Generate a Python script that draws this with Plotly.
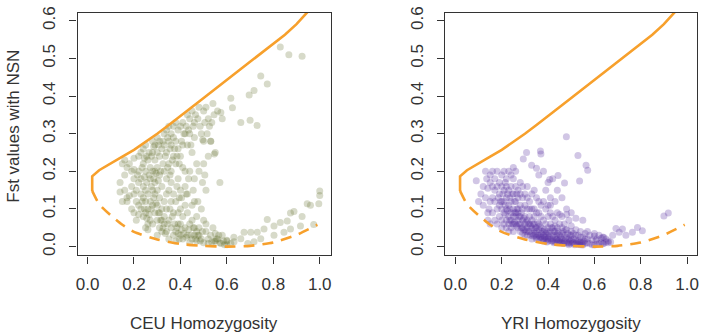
import plotly.graph_objects as go

# Boundary curves (same in both panels)
upper_x = [0.02, 0.02, 0.05, 0.1, 0.15, 0.2, 0.25, 0.3, 0.35, 0.4, 0.45, 0.5, 0.55, 0.6, 0.65, 0.7, 0.75, 0.8, 0.85, 0.9, 0.95]
upper_y = [0.148, 0.187, 0.203, 0.222, 0.239, 0.257, 0.278, 0.3, 0.323, 0.348, 0.371, 0.395, 0.419, 0.443, 0.466, 0.49, 0.513, 0.537, 0.563, 0.591, 0.625]
lower_x = [0.02, 0.05, 0.1, 0.15, 0.2, 0.3, 0.4, 0.5, 0.6, 0.7, 0.8, 0.9, 0.99]
lower_y = [0.148, 0.113, 0.083, 0.058, 0.039, 0.019, 0.007, 0.002, 0.0, 0.002, 0.011, 0.031, 0.058]

ceu_pts = [
    (0.14,0.17),(0.15,0.12),(0.16,0.15),(0.15,0.22),(0.16,0.23),(0.17,0.21),(0.17,0.13),(0.14,0.145),(0.16,0.19),(0.17,0.12),
    (0.18,0.22),(0.19,0.2),(0.2,0.18),(0.19,0.16),(0.2,0.14),(0.21,0.12),(0.19,0.1),(0.2,0.09),(0.22,0.11),(0.21,0.15),(0.22,0.2),
    (0.2,0.235),(0.22,0.24),(0.21,0.07),(0.22,0.085),(0.18,0.135),(0.2,0.205),(0.22,0.17),
    (0.23,0.25),(0.24,0.26),(0.25,0.27),(0.24,0.22),(0.25,0.2),(0.23,0.18),(0.24,0.16),(0.26,0.14),(0.25,0.12),(0.23,0.1),
    (0.24,0.08),(0.26,0.06),(0.25,0.05),(0.27,0.07),(0.26,0.1),(0.27,0.18),(0.26,0.23),(0.27,0.21),(0.25,0.15),(0.24,0.13),
    (0.23,0.14),(0.27,0.12),(0.26,0.045),(0.25,0.09),
    (0.28,0.28),(0.29,0.27),(0.3,0.29),(0.31,0.28),(0.28,0.25),(0.29,0.23),(0.3,0.21),(0.31,0.24),(0.32,0.26),(0.28,0.2),
    (0.29,0.17),(0.3,0.15),(0.31,0.13),(0.28,0.11),(0.29,0.09),(0.3,0.07),(0.31,0.05),(0.32,0.04),(0.28,0.06),(0.3,0.03),
    (0.32,0.1),(0.31,0.19),(0.29,0.14),(0.32,0.16),(0.3,0.11),(0.28,0.15),(0.32,0.07),(0.31,0.09),(0.29,0.2),(0.3,0.25),
    (0.33,0.3),(0.34,0.31),(0.35,0.32),(0.36,0.3),(0.33,0.27),(0.34,0.25),(0.36,0.27),(0.37,0.29),(0.35,0.22),(0.33,0.2),
    (0.34,0.18),(0.36,0.2),(0.37,0.24),(0.35,0.15),(0.33,0.12),(0.34,0.1),(0.36,0.12),(0.37,0.09),(0.35,0.07),(0.33,0.06),
    (0.34,0.04),(0.36,0.05),(0.37,0.03),(0.35,0.02),(0.33,0.08),(0.36,0.17),(0.37,0.14),(0.34,0.14),(0.35,0.28),(0.37,0.32),
    (0.38,0.33),(0.39,0.31),(0.4,0.32),(0.41,0.33),(0.38,0.28),(0.39,0.26),(0.4,0.24),(0.42,0.3),(0.38,0.22),(0.41,0.21),
    (0.39,0.18),(0.4,0.15),(0.42,0.2),(0.38,0.12),(0.4,0.1),(0.41,0.08),(0.39,0.06),(0.42,0.05),(0.38,0.04),(0.4,0.03),
    (0.41,0.02),(0.42,0.11),(0.39,0.09),(0.42,0.16),(0.4,0.06),(0.38,0.015),(0.41,0.27),(0.39,0.035),
    (0.43,0.35),(0.44,0.34),(0.45,0.36),(0.46,0.33),(0.44,0.3),(0.46,0.29),(0.43,0.27),(0.45,0.25),(0.47,0.22),(0.44,0.2),
    (0.46,0.18),(0.43,0.14),(0.45,0.11),(0.47,0.08),(0.44,0.06),(0.46,0.05),(0.43,0.03),(0.45,0.02),(0.47,0.015),(0.44,0.01),
    (0.46,0.03),(0.47,0.04),(0.45,0.07),(0.43,0.09),(0.46,0.12),
    (0.48,0.37),(0.5,0.36),(0.51,0.37),(0.52,0.34),(0.49,0.3),(0.5,0.28),(0.52,0.24),(0.48,0.2),(0.5,0.22),(0.51,0.15),
    (0.49,0.1),(0.5,0.07),(0.48,0.05),(0.51,0.04),(0.52,0.02),(0.49,0.02),(0.5,0.01),(0.52,0.008),(0.48,0.03),(0.51,0.06),
    (0.53,0.28),(0.55,0.25),(0.57,0.17),(0.56,0.36),(0.58,0.34),(0.54,0.38),(0.53,0.03),(0.55,0.015),(0.57,0.01),(0.59,0.005),
    (0.54,0.05),(0.56,0.02),(0.58,0.03),(0.6,0.015),(0.6,0.005),(0.55,0.035),
    (0.83,0.53),(0.867,0.51),(0.924,0.506),(0.746,0.453),(0.774,0.432),(0.717,0.415),(0.696,0.403),(0.7,0.336),(0.73,0.322),
    (0.66,0.33),(0.617,0.394),(0.624,0.369),(0.574,0.356),(0.531,0.28),(0.546,0.246),(0.496,0.284),
    (1.0,0.148),(1.0,0.136),(0.996,0.114),(0.96,0.11),(0.946,0.114),(0.924,0.08),(0.889,0.093),(0.874,0.089),(0.86,0.068),
    (0.83,0.064),(0.803,0.055),(0.774,0.072),(0.76,0.047),(0.731,0.038),(0.703,0.038),(0.674,0.038),(0.66,0.021),(0.631,0.013),
    (0.6,0.017),(0.574,0.008),(0.546,0.014),(0.917,0.055),(0.974,0.059),(0.874,0.047),(0.846,0.038),(0.803,0.03),(0.746,0.021),
    (0.717,0.013),(0.69,0.008),(0.63,0.025),(0.617,0.008),
    # extra density in the main cloud
    (0.215,0.19),(0.235,0.21),(0.245,0.185),(0.255,0.17),(0.265,0.19),(0.275,0.16),(0.285,0.18),(0.295,0.195),(0.305,0.175),
    (0.315,0.2),(0.325,0.22),(0.335,0.24),(0.345,0.21),(0.355,0.19),(0.365,0.23),(0.375,0.26),(0.385,0.24),(0.395,0.22),
    (0.235,0.12),(0.245,0.1),(0.255,0.075),(0.265,0.085),(0.275,0.1),(0.285,0.13),(0.295,0.115),(0.305,0.09),(0.315,0.07),
    (0.325,0.05),(0.335,0.035),(0.345,0.06),(0.355,0.1),(0.365,0.08),(0.375,0.06),(0.385,0.05),(0.395,0.02),(0.405,0.045),
    (0.415,0.035),(0.425,0.025),(0.435,0.045),(0.445,0.03),(0.455,0.05),(0.465,0.02),(0.475,0.03),(0.485,0.015),(0.495,0.04),
    (0.415,0.3),(0.425,0.32),(0.435,0.31),(0.445,0.27),(0.455,0.32),(0.465,0.35),(0.475,0.34),(0.485,0.32),(0.405,0.28),
    (0.325,0.28),(0.345,0.29),(0.355,0.26),(0.275,0.24),(0.265,0.25),(0.255,0.24),(0.245,0.235),(0.285,0.265),(0.305,0.27),
    (0.405,0.13),(0.425,0.14),(0.435,0.18),(0.455,0.15),(0.475,0.12),(0.495,0.17),(0.505,0.19),(0.385,0.16),(0.395,0.13),
    (0.515,0.3),(0.525,0.32),(0.535,0.33),(0.545,0.35),(0.505,0.33),(0.555,0.02),(0.565,0.03),(0.585,0.015),(0.535,0.012),
]

yri_pts = [
    (0.09,0.175),(0.13,0.2),(0.135,0.18),(0.12,0.16),(0.11,0.14),(0.12,0.11),(0.14,0.09),(0.13,0.13),(0.14,0.155),(0.15,0.19),
    (0.15,0.12),(0.1,0.12),(0.145,0.1),(0.15,0.17),(0.15,0.06),(0.14,0.07),
    (0.16,0.2),(0.17,0.18),(0.18,0.16),(0.19,0.14),(0.2,0.12),(0.17,0.12),(0.18,0.1),(0.19,0.08),(0.2,0.07),(0.16,0.09),
    (0.17,0.15),(0.2,0.19),(0.18,0.2),(0.19,0.17),(0.2,0.1),(0.16,0.13),(0.18,0.06),(0.2,0.05),(0.17,0.07),(0.19,0.11),
    (0.2,0.16),(0.16,0.16),
    (0.21,0.2),(0.22,0.18),(0.23,0.2),(0.24,0.19),(0.25,0.21),(0.21,0.15),(0.22,0.13),(0.23,0.11),(0.24,0.09),(0.25,0.08),
    (0.21,0.09),(0.22,0.07),(0.23,0.06),(0.24,0.05),(0.25,0.04),(0.21,0.06),(0.22,0.1),(0.23,0.08),(0.24,0.12),(0.25,0.1),
    (0.22,0.05),(0.24,0.07),(0.25,0.06),(0.23,0.15),(0.25,0.14),(0.21,0.12),(0.24,0.16),(0.22,0.16),(0.25,0.18),(0.23,0.04),
    (0.26,0.2),(0.27,0.15),(0.28,0.17),(0.29,0.13),(0.3,0.11),(0.26,0.12),(0.27,0.1),(0.28,0.08),(0.29,0.07),(0.3,0.06),
    (0.26,0.06),(0.27,0.05),(0.28,0.04),(0.29,0.035),(0.3,0.03),(0.26,0.08),(0.27,0.07),(0.28,0.06),(0.29,0.05),(0.3,0.045),
    (0.26,0.09),(0.28,0.11),(0.3,0.08),(0.27,0.13),(0.29,0.1),(0.3,0.14),(0.28,0.14),(0.26,0.16),(0.29,0.16),(0.27,0.09),
    (0.31,0.1),(0.32,0.08),(0.33,0.07),(0.34,0.06),(0.35,0.05),(0.31,0.05),(0.32,0.04),(0.33,0.035),(0.34,0.03),(0.35,0.025),
    (0.31,0.07),(0.32,0.06),(0.33,0.05),(0.34,0.045),(0.35,0.04),(0.31,0.03),(0.33,0.02),(0.35,0.02),(0.32,0.12),(0.34,0.1),
    (0.33,0.14),(0.35,0.13),(0.31,0.13),(0.34,0.08),(0.32,0.1),(0.35,0.09),(0.33,0.1),(0.31,0.16),(0.34,0.15),
    (0.36,0.06),(0.37,0.05),(0.38,0.04),(0.39,0.035),(0.4,0.03),(0.36,0.03),(0.37,0.025),(0.38,0.02),(0.39,0.018),(0.4,0.015),
    (0.36,0.045),(0.37,0.035),(0.38,0.03),(0.39,0.025),(0.4,0.02),(0.36,0.09),(0.37,0.11),(0.38,0.12),(0.39,0.1),(0.4,0.08),
    (0.37,0.08),(0.39,0.06),(0.4,0.05),(0.38,0.07),(0.36,0.12),(0.4,0.11),(0.38,0.015),(0.36,0.02),
    (0.41,0.04),(0.42,0.03),(0.43,0.025),(0.44,0.02),(0.45,0.018),(0.41,0.02),(0.42,0.015),(0.43,0.012),(0.44,0.01),(0.45,0.01),
    (0.41,0.06),(0.42,0.05),(0.43,0.04),(0.44,0.035),(0.45,0.03),(0.41,0.09),(0.43,0.07),(0.45,0.06),(0.42,0.08),(0.44,0.09),
    (0.41,0.11),(0.45,0.085),(0.43,0.055),(0.42,0.02),(0.44,0.05),
    (0.46,0.02),(0.47,0.015),(0.48,0.012),(0.49,0.01),(0.5,0.008),(0.46,0.035),(0.47,0.03),(0.48,0.025),(0.49,0.02),(0.5,0.018),
    (0.46,0.05),(0.48,0.045),(0.5,0.04),(0.47,0.06),(0.49,0.07),(0.46,0.08),(0.48,0.085),(0.5,0.03),(0.47,0.01),(0.49,0.005),
    (0.5,0.055),(0.46,0.01),
    (0.51,0.01),(0.52,0.008),(0.53,0.006),(0.54,0.005),(0.55,0.004),(0.51,0.02),(0.52,0.018),(0.53,0.015),(0.54,0.012),(0.55,0.01),
    (0.51,0.035),(0.53,0.03),(0.55,0.025),(0.52,0.045),(0.54,0.04),(0.56,0.02),(0.56,0.008),(0.52,0.03),(0.54,0.025),(0.56,0.035),
    (0.57,0.01),(0.58,0.008),(0.59,0.005),(0.6,0.004),(0.61,0.006),(0.62,0.008),(0.63,0.01),(0.64,0.008),(0.65,0.012),(0.66,0.01),
    (0.67,0.012),(0.57,0.02),(0.59,0.018),(0.61,0.02),(0.63,0.022),(0.65,0.02),(0.58,0.03),(0.6,0.028),(0.62,0.03),(0.6,0.035),
    (0.64,0.025),(0.57,0.04),(0.66,0.015),
    (0.38,0.2),(0.4,0.17),(0.36,0.19),(0.39,0.15),(0.41,0.13),(0.43,0.12),(0.44,0.15),(0.46,0.13),(0.48,0.1),(0.5,0.09),
    (0.52,0.075),(0.55,0.07),(0.42,0.18),
    (0.479,0.292),(0.529,0.242),(0.564,0.216),(0.571,0.203),(0.536,0.174),(0.443,0.189),(0.471,0.169),(0.407,0.178),
    (0.367,0.254),(0.369,0.246),(0.307,0.25),(0.293,0.233),(0.329,0.216),(0.35,0.208),
    (0.919,0.089),(0.9,0.081),(0.807,0.042),(0.786,0.051),(0.764,0.038),(0.721,0.047),(0.693,0.048),(0.707,0.038),(0.736,0.03),
    (0.679,0.03),(0.636,0.025),(0.607,0.017),(0.636,0.008),
    # extra density along the lower band
    (0.215,0.085),(0.225,0.095),(0.235,0.07),(0.245,0.06),(0.255,0.065),(0.265,0.055),(0.275,0.06),(0.285,0.05),(0.295,0.045),
    (0.305,0.04),(0.315,0.04),(0.325,0.03),(0.335,0.028),(0.345,0.035),(0.355,0.03),(0.365,0.025),(0.375,0.02),(0.385,0.025),
    (0.395,0.012),(0.405,0.025),(0.415,0.015),(0.425,0.01),(0.435,0.018),(0.445,0.015),(0.455,0.012),(0.465,0.008),(0.475,0.02),
    (0.485,0.008),(0.495,0.015),(0.505,0.012),(0.515,0.005),(0.525,0.012),(0.535,0.01),(0.545,0.008),(0.555,0.015),
    (0.215,0.11),(0.235,0.1),(0.255,0.09),(0.265,0.1),(0.275,0.08),(0.285,0.09),(0.295,0.075),(0.305,0.065),(0.315,0.06),
    (0.325,0.055),(0.335,0.06),(0.345,0.05),(0.355,0.065),(0.365,0.055),(0.375,0.04),(0.385,0.045),(0.395,0.04),(0.405,0.035),
    (0.415,0.05),(0.425,0.04),(0.435,0.03),(0.445,0.04),(0.455,0.025),(0.465,0.04),(0.475,0.045),(0.485,0.035),(0.495,0.03),
    (0.185,0.13),(0.195,0.12),(0.205,0.14),(0.215,0.17),(0.225,0.14),(0.235,0.13),(0.245,0.14),(0.255,0.12),(0.265,0.14),
]

ceu_x = [p[0] for p in ceu_pts]
ceu_y = [p[1] for p in ceu_pts]
yri_x = [p[0] for p in yri_pts]
yri_y = [p[1] for p in yri_pts]

x_ticks = [0.0, 0.2, 0.4, 0.6, 0.8, 1.0]
y_ticks = [0.0, 0.1, 0.2, 0.3, 0.4, 0.5, 0.6]

ORANGE = "#F7A02C"
FONT = "Liberation Sans, Arial, sans-serif"
W, H = 702, 335

fig = go.Figure()
panels = [
    ("x", "y", ceu_x, ceu_y, "rgba(100,112,45,0.26)"),
    ("x2", "y2", yri_x, yri_y, "rgba(90,50,160,0.28)"),
]
for xa, ya, px, py, col in panels:
    fig.add_trace(go.Scatter(x=px, y=py, mode="markers", xaxis=xa, yaxis=ya,
                             marker=dict(size=7, color=col, line=dict(width=0)),
                             showlegend=False, hoverinfo="skip"))
    fig.add_trace(go.Scatter(x=upper_x, y=upper_y, mode="lines", xaxis=xa, yaxis=ya,
                             line=dict(color=ORANGE, width=2.6),
                             showlegend=False, hoverinfo="skip"))
    fig.add_trace(go.Scatter(x=lower_x, y=lower_y, mode="lines", xaxis=xa, yaxis=ya,
                             line=dict(color=ORANGE, width=2.6, dash="11px,8px", shape="spline", smoothing=0.6),
                             showlegend=False, hoverinfo="skip"))

axis_common = dict(showline=True, mirror=True, linecolor="#333", linewidth=1.2,
                   ticks="outside", ticklen=7, tickwidth=1.2, tickcolor="#333",
                   showgrid=False, zeroline=False, ticklabeloverflow="allow",
                   tickfont=dict(family=FONT, size=17, color="#333"))
yr = [-0.0235, 0.621]
ydom = [1 - 254 / H, 1 - 7 / H]
fig.update_layout(
    width=W, height=H, margin=dict(l=0, r=0, t=0, b=0),
    plot_bgcolor="white", paper_bgcolor="white",
    xaxis=dict(domain=[76 / W, 331 / W], range=[-0.043, 1.049], tickvals=x_ticks, tickformat=".1f",
               ticklabelstandoff=6, anchor="y", **axis_common),
    yaxis=dict(domain=ydom, range=yr, tickvals=y_ticks, tickformat=".1f", tickangle=-90,
               ticklabelstandoff=8, anchor="x", **axis_common),
    xaxis2=dict(domain=[446 / W, 699 / W], range=[-0.043, 1.043], tickvals=x_ticks, tickformat=".1f",
                ticklabelstandoff=6, anchor="y2", **axis_common),
    yaxis2=dict(domain=ydom, range=yr, tickvals=y_ticks, tickformat=".1f", tickangle=-90,
                ticklabelstandoff=8, anchor="x2", **axis_common),
)

tfont = dict(family=FONT, size=17, color="#333")
fig.add_annotation(text="CEU Homozygosity", x=(76 + 331) / 2 / W, y=1 - 323 / H,
                   xref="paper", yref="paper", showarrow=False, font=tfont,
                   xanchor="center", yanchor="middle")
fig.add_annotation(text="YRI Homozygosity", x=(446 + 699) / 2 / W, y=1 - 323 / H,
                   xref="paper", yref="paper", showarrow=False, font=tfont,
                   xanchor="center", yanchor="middle")
fig.add_annotation(text="Fst values with NSN", x=12 / W, y=1 - 122 / H, textangle=-90,
                   xref="paper", yref="paper", showarrow=False, font=tfont,
                   xanchor="center", yanchor="middle")

fig.write_html("out.html", config={"displayModeBar": False},
               post_script="document.body.style.margin='0';document.body.style.overflow='hidden';")
